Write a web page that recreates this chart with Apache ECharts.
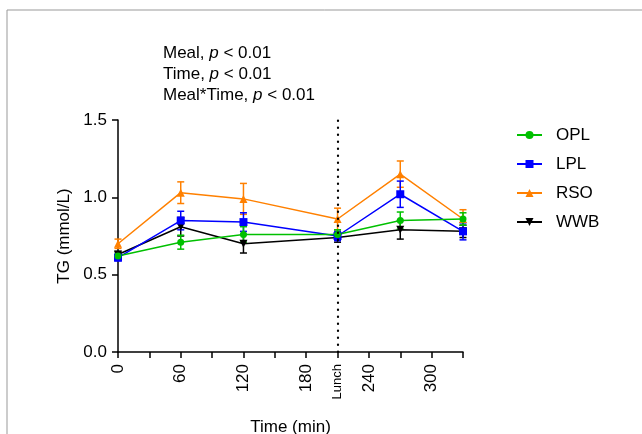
<!DOCTYPE html>
<html>
<head>
<meta charset="utf-8">
<script src="https://cdn.jsdelivr.net/npm/echarts@6/dist/echarts.min.js"></script>
<style>
  html, body { margin: 0; padding: 0; background: #fff; }
  #chart { width: 642px; height: 434px; }
</style>
</head>
<body>
<div id="chart"></div>
<script>
// time points (min), 210 = lunch
var times = [0, 60, 120, 210, 270, 330];
var groups = ['OPL', 'LPL', 'RSO', 'WWB'];

var opl = [0.62, 0.71, 0.76, 0.76, 0.85, 0.86];
var oplSem = [0.02, 0.045, 0.05, 0.03, 0.055, 0.04];
var lpl = [0.61, 0.85, 0.84, 0.75, 1.02, 0.78];
var lplSem = [0.02, 0.06, 0.06, 0.03, 0.085, 0.055];
var rso = [0.70, 1.03, 0.99, 0.86, 1.15, 0.86];
var rsoSem = [0.03, 0.07, 0.10, 0.07, 0.085, 0.06];
var wwb = [0.63, 0.81, 0.70, 0.74, 0.79, 0.78];
var wwbSem = [0.02, 0.06, 0.06, 0.03, 0.06, 0.04];

var xLabels = { 0: '0', 60: '60', 120: '120', 180: '180', 210: 'Lunch', 240: '240', 300: '300' };

var colors = ['#00c000', '#0000ff', '#ff8000', '#000000'];
var symbols = ['circle', 'rect', 'triangle', 'triangle'];
var rotates = [0, 0, 0, 180];
var values = [opl, lpl, rso, wwb];
var sems = [oplSem, lplSem, rsoSem, wwbSem];

var FONT = 'Liberation Sans, Arial, sans-serif';

function pairs(vals) {
    return times.map(function (t, i) { return [t, vals[i]]; });
}

function errData(vals, sem) {
    return times.map(function (t, i) { return [t, vals[i], sem[i]]; });
}

function renderErr(color) {
    return function (params, api) {
        var x = api.value(0), y = api.value(1), e = api.value(2);
        var hi = api.coord([x, y + e]);
        var lo = api.coord([x, y - e]);
        var st = { stroke: color, lineWidth: 1.5 };
        return {
            type: 'group',
            children: [
                { type: 'line', shape: { x1: hi[0], y1: hi[1], x2: lo[0], y2: lo[1] }, style: st },
                { type: 'line', shape: { x1: hi[0] - 3.5, y1: hi[1], x2: hi[0] + 3.5, y2: hi[1] }, style: st },
                { type: 'line', shape: { x1: lo[0] - 3.5, y1: lo[1], x2: lo[0] + 3.5, y2: lo[1] }, style: st }
            ]
        };
    };
}

var series = [];
// draw WWB first so OPL ends up on top
for (var k = groups.length - 1; k >= 0; k--) {
    series.push({
        name: groups[k] + ' SEM',
        type: 'custom',
        renderItem: renderErr(colors[k]),
        data: errData(values[k], sems[k]),
        z: 2,
        silent: true
    });
    series.push({
        name: groups[k],
        type: 'line',
        data: pairs(values[k]),
        symbol: symbols[k],
        symbolRotate: rotates[k],
        symbolSize: k == 0 ? 7 : 8,
        showAllSymbol: true,
        lineStyle: { color: colors[k], width: 1.5 },
        itemStyle: { color: colors[k] },
        z: 3
    });
}
// lunch marker
series[1].markLine = {
    silent: true,
    symbol: 'none',
    label: { show: false },
    lineStyle: { color: '#000', type: [0.5, 6.5], width: 2.2, cap: 'round' },
    data: [{ xAxis: 210 }]
};

var dom = document.getElementById('chart');
var myChart = echarts.init(dom);
var option = {
    animation: false,
    backgroundColor: '#fff',
    textStyle: { fontFamily: FONT },
    grid: { left: 118, right: 179, top: 120, bottom: 82, containLabel: false, outerBoundsMode: 'none' },
    legend: {
        orient: 'vertical',
        left: 511,
        top: 121,
        itemWidth: 25,
        itemHeight: 10,
        itemGap: 11,
        data: groups,
        textStyle: { fontSize: 17, color: '#000', lineHeight: 18, padding: [0, 0, 0, 9] }
    },
    xAxis: {
        type: 'value',
        min: 0,
        max: 330,
        interval: 30,
        name: 'Time (min)',
        nameLocation: 'middle',
        nameGap: 67,
        nameTextStyle: { fontSize: 17, color: '#000' },
        splitLine: { show: false },
        axisLine: { lineStyle: { color: '#000', width: 1.5 } },
        axisTick: { length: 6, lineStyle: { color: '#000', width: 1.5 } },
        axisLabel: {
            rotate: 90,
            color: '#000',
            fontSize: 17,
            margin: 12,
            formatter: function (v) {
                var s = xLabels[v];
                if (s === undefined) return '';
                return v === 210 ? '{s|' + s + '}' : s;
            },
            rich: { s: { fontSize: 13, color: '#000' } }
        }
    },
    yAxis: {
        type: 'value',
        min: 0,
        max: 1.5,
        interval: 0.5,
        name: 'TG (mmol/L)',
        nameLocation: 'middle',
        nameRotate: 90,
        nameGap: 45,
        nameTextStyle: { fontSize: 17, color: '#000' },
        splitLine: { show: false },
        axisLine: { show: true, lineStyle: { color: '#000', width: 1.5 } },
        axisTick: { show: true, length: 6, lineStyle: { color: '#000', width: 1.5 } },
        axisLabel: {
            color: '#000',
            fontSize: 17,
            margin: 11,
            formatter: function (v) { return v.toFixed(1); }
        }
    },
    graphic: [
        { type: 'line', shape: { x1: 7, y1: 10, x2: 642, y2: 10 }, style: { stroke: '#999', lineWidth: 1 } },
        { type: 'line', shape: { x1: 7, y1: 10, x2: 7, y2: 434 }, style: { stroke: '#999', lineWidth: 1 } },
        {
            type: 'text',
            left: 163,
            top: 43,
            style: {
                text: 'Meal, {i|p} < 0.01\nTime, {i|p} < 0.01\nMeal*Time, {i|p} < 0.01',
                fontSize: 17,
                lineHeight: 21,
                fill: '#000',
                fontFamily: FONT,
                rich: {
                    i: { fontStyle: 'italic', fontSize: 17, lineHeight: 21, fill: '#000', fontFamily: FONT }
                }
            }
        }
    ],
    series: series
};
myChart.setOption(option);
</script>
</body>
</html>
